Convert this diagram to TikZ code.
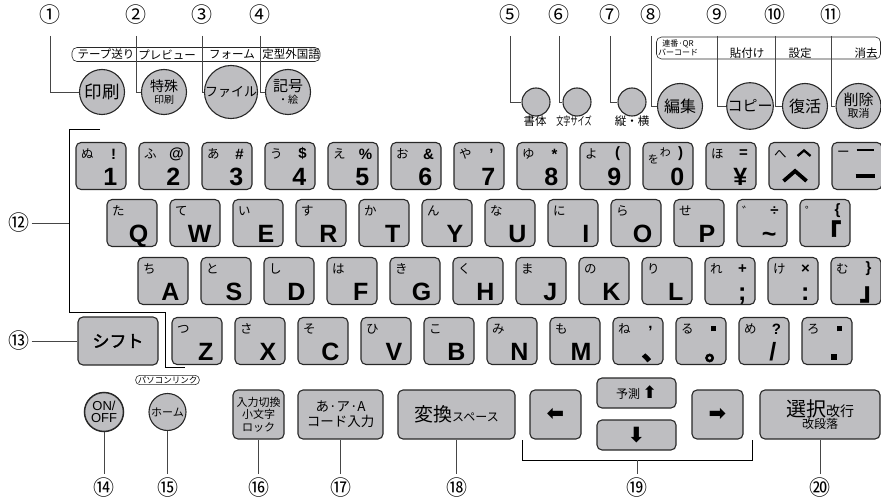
\documentclass[tikz,border=0pt]{standalone}
\usepackage{fontspec}
\setmainfont{Liberation Sans}
\newfontfamily\jp{Noto Sans CJK JP}
\newfontfamily\jpb[FakeBold=2]{Noto Sans CJK JP}
\newfontfamily\dv{DejaVu Sans}
\usetikzlibrary{positioning,calc}
\definecolor{keyGray}{RGB}{190,190,193}
\definecolor{keyLine}{RGB}{40,40,40}
\definecolor{leadCol}{RGB}{70,70,70}
\tikzset{
  key/.style={draw=keyLine,fill=keyGray,line width=1.1pt,rounded corners=5pt,inner sep=0pt,
              minimum width=50pt,minimum height=47pt,align=center,font=\jp},
  btn/.style={circle,draw=keyLine,fill=keyGray,line width=1.1pt,inner sep=0pt,
              minimum size=45pt,align=center,font=\jp},
  sbtn/.style={btn,minimum size=28pt},
  lead/.style={draw=leadCol,line width=0.8pt},
  num/.style={font=\jp\fontsize{21}{21}\selectfont,inner sep=0pt},
  kana/.style={font=\jp\fontsize{12.5}{12.5}\selectfont,inner sep=0pt},
  symb/.style={font=\bfseries\fontsize{15}{15}\selectfont,inner sep=0pt},
  mainch/.style={font=\bfseries\fontsize{25}{25}\selectfont,inner sep=0pt,anchor=base east},
  tag/.style={draw=keyLine,line width=0.6pt,rounded corners=5pt,inner sep=0pt},
  tagtxt/.style={font=\jp\fontsize{11.5}{11.5}\selectfont,inner sep=0pt},
  arr/.style={font=\dv\bfseries\fontsize{21}{21}\selectfont},
}

\begin{document}
\begin{tikzpicture}[x=1pt,y=-1pt,
      chev/.style={line width=2pt,draw=black},
      bar/.style={line width=2.5pt,draw=black}]
  \useasboundingbox (0,0) rectangle (881,500);
  % function tags above the top buttons
  \node[tag,minimum width=248pt,minimum height=14pt] (tagL) at (196,54.5) {};
  \foreach \x/\t [count=\i] in {106/テープ送り,167/プレビュー,232/フォーム,291/定型外国語}
    \node[tagtxt] (tl\i) at (\x,54.5) {\t};
  \node[tag,minimum width=224pt,minimum height=22pt] (tagR) at (768.5,48) {};
  \node[tagtxt,font=\jp\fontsize{8}{8.5}\selectfont,align=center] (tr0) at (678,48) {連番·QR\\バーコード};
  \foreach \x/\t [count=\i] in {747/貼付け,800/設定,866/消去}
    \node[tagtxt] (tr\i) at (\x,53) {\t};
  % top buttons
  \node[btn] (b1) at (102,92) {\fontsize{17.5}{17.5}\selectfont 印刷};
  \node[btn] (b2) at (164,92) {\fontsize{14}{15}\selectfont 特殊\\印刷};
  \node[btn] (b3) at (231,92) {\fontsize{13}{13}\selectfont ファイル};
  \node[btn] (b4) at (288,92) {\fontsize{15}{16}\selectfont 記号\\・絵};
  \node[sbtn] (b5) at (536,102) {};
  \node[sbtn] (b6) at (577,102) {};
  \node[sbtn] (b7) at (632,102) {};
  \node[btn] (b8) at (680,106) {\fontsize{16}{16}\selectfont 編集};
  \node[btn] (b9) at (750,106) {\fontsize{15}{15}\selectfont コピー};
  \node[btn] (b10) at (805,106) {\fontsize{16}{16}\selectfont 復活};
  \node[btn] (b11) at (858.5,106) {\fontsize{15}{16}\selectfont 削除\\\fontsize{11}{12}\selectfont 取消};
  \foreach \x/\t [count=\i] in {535/書体,574/{\scalebox{0.62}[1]{文字サイズ}},632/縦・横}
    \node[tagtxt] (lb\i) at (\x,121) {\t};
  % numbers + leaders (top)
  \foreach \i/\c/\x in {1/①/50,2/②/136,3/③/202,4/④/260,5/⑤/510,6/⑥/559,7/⑦/610,
                        8/⑧/651,9/⑨/717,10/⑩/775,11/⑪/831}{
    \node[num] (n\i) at (\x,15) {\c};
    \draw[lead,shorten <=11pt] (n\i.south) |- (b\i.west);
  }
  % number row
  \foreach \kn/\sy/\mc [count=\n] in {ぬ/!/1,ふ/@/2,あ/\#/3,う/\$/4,え/\%/5,お/\&/6,や/’/7,
        ゆ/*/8,よ/{(}/9,{}/{)}/0,ほ/=/¥,へ/{}/{},ー/{}/{}}{
    \node[key] (a\n) at ({101+63*(\n-1)},166) {};
    \node[kana] (a\n k) at ([xshift=12pt,yshift=-12pt]a\n.north west) {\kn};
    \node[symb] (a\n s) at ([xshift=-13pt,yshift=-12pt]a\n.north east) {\sy};
    \node[mainch] (a\n m) at ([xshift=-9pt,yshift=5pt]a\n.south east) {\mc};
  }
  \node[kana,font=\jp\fontsize{11}{11}\selectfont] (wo) at ([xshift=11pt,yshift=-17pt]a10.north west) {を};
  \node[kana,font=\jp\fontsize{11}{11}\selectfont] (wa) at ([xshift=23pt,yshift=-10pt]a10.north west) {わ};
  \draw[chev,line width=2.3pt] ([xshift=-22pt,yshift=-14pt]a12.north east) -- ++(6.5pt,5.5pt) -- ++(6.5pt,-5.5pt);
  \draw[chev,line width=3.8pt] ([xshift=-36pt,yshift=9pt]a12.south east) -- ++(11.5pt,10pt) -- ++(11.5pt,-10pt);
  \draw[bar] ([xshift=-26pt,yshift=-8pt]a13.north east) -- ++(17pt,0);
  \draw[bar,line width=4pt] ([xshift=-27pt,yshift=14pt]a13.south east) -- ++(19pt,0);
  % QWERTY row
  \foreach \kn/\sy/\mc [count=\n] in {た/{}/Q,て/{}/W,い/{}/E,す/{}/R,か/{}/T,ん/{}/Y,な/{}/U,
        に/{}/I,ら/{}/O,せ/{}/P,゛/÷/{\textasciitilde\kern2pt},゜/\{/{\jpb ｢}}{
    \node[key] (q\n) at ({132+63*(\n-1)},223) {};
    \node[kana] (q\n k) at ([xshift=12pt,yshift=-12pt]q\n.north west) {\kn};
    \node[symb] (q\n s) at ([xshift=-13pt,yshift=-12pt]q\n.north east) {\sy};
    \node[mainch] (q\n m) at ([xshift=-9pt,yshift=5pt]q\n.south east) {\mc};
  }
  % home row
  \foreach \kn/\sy/\mc [count=\n] in {ち/{}/A,と/{}/S,し/{}/D,は/{}/F,き/{}/G,く/{}/H,ま/{}/J,
        の/{}/K,り/{}/L,れ/+/;,け/×/:,む/\}/{\jpb ｣}}{
    \node[key] (h\n) at ({163+63*(\n-1)},281) {};
    \node[kana] (h\n k) at ([xshift=12pt,yshift=-12pt]h\n.north west) {\kn};
    \node[symb] (h\n s) at ([xshift=-13pt,yshift=-12pt]h\n.north east) {\sy};
    \node[mainch] (h\n m) at ([xshift=-9pt,yshift=5pt]h\n.south east) {\mc};
  }
  % bottom letter row
  \node[key,minimum width=80pt,minimum height=48pt,font=\jpb\fontsize{17}{17}\selectfont] (shift) at (118,341) {シフト};
  \foreach \kn/\sy/\mc [count=\n] in {つ/{}/Z,さ/{}/X,そ/{}/C,ひ/{}/V,こ/{}/B,み/{}/N,も/{}/M,
        ね/{,}/{\jpb ､},る/{\rule{5pt}{5pt}}/{\jpb ｡},め/?/{/\kern4pt},
        ろ/{\rule{5pt}{5pt}}/{\rule{6pt}{6pt}\kern6pt}}{
    \node[key] (z\n) at ({197+63*(\n-1)},341) {};
    \node[kana] (z\n k) at ([xshift=12pt,yshift=-12pt]z\n.north west) {\kn};
    \node[symb] (z\n s) at ([xshift=-13pt,yshift=-12pt]z\n.north east) {\sy};
    \node[mainch] (z\n m) at ([xshift=-9pt,yshift=5pt]z\n.south east) {\mc};
  }
  % bracket 12, leader 13
  \node[num] (n12) at (19,223) {⑫};
  \coordinate (c12) at (69,223);
  \draw[lead,shorten <=2pt] (n12.east) -- (c12);
  \draw[lead,draw=black] (100,129) -| (69,312) -| (165,367) -- (185,367);
  \node[num] (n13) at (19,341) {⑬};
  \draw[lead,shorten <=2pt] (n13.east) -- (shift.west);
  % bottom keys
  \node[tag,rounded corners=4pt,inner xsep=2pt,inner ysep=1pt,font=\jp\fontsize{8.5}{8.5}\selectfont] (pcl) at (167.5,380) {パソコンリンク};
  \node[btn,minimum size=39pt,line width=1.5pt,font=\fontsize{13}{12}\selectfont] (onoff) at (104,412) {ON/\\OFF};
  \node[btn,minimum size=37pt,font=\jp\fontsize{11}{11}\selectfont] (home) at (167.5,412) {ホーム};
  \node[key,minimum width=51pt,minimum height=49pt,font=\jp\fontsize{11}{12.5}\selectfont] (kmode) at (258.5,414.5) {入力切換\\小文字\\ロック};
  \node[key,minimum width=85pt,minimum height=49pt,font=\jp\fontsize{13.5}{15}\selectfont] (kkana) at (340.5,414.5) {あ·ア·A\\コード入力};
  \node[key,minimum width=117pt,minimum height=49pt] (kconv) at (456.5,414.5) {\fontsize{19}{19}\selectfont 変換\fontsize{12}{12}\selectfont スペース};
  \node[key,arr,minimum width=51pt,minimum height=49pt] (kleft) at (555.5,414.5) {⬅};
  \node[key,minimum width=79pt,minimum height=30pt,font=\jp\fontsize{12}{12}\selectfont] (kup) at (636.5,393) {予測 {\dv\bfseries\fontsize{17}{17}\selectfont ⬆}};
  \node[key,arr,minimum width=79pt,minimum height=30pt] (kdown) at (636.5,435) {⬇};
  \node[key,arr,minimum width=51pt,minimum height=49pt] (kright) at (717.5,414.5) {➡};
  \node[key,minimum width=120pt,minimum height=49pt] (ksel) at (820,414.5) {\fontsize{20}{20}\selectfont 選択\fontsize{14}{14}\selectfont 改行\\\fontsize{12}{14}\selectfont 改段落};
  % numbers + leaders (bottom)
  \foreach \i/\c/\x/\k in {14/⑭/104/onoff,15/⑮/167.5/home,16/⑯/258.5/kmode,17/⑰/340.5/kkana,
                           18/⑱/456.5/kconv,20/⑳/820/ksel}{
    \node[num] (n\i) at (\x,488) {\c};
    \draw[lead,shorten >=4pt] (\k.south) -- (n\i.north);
  }
  \node[num] (n19) at (637,488) {⑲};
  \coordinate (c19) at (637,460);
  \draw[lead,draw=black] (522,440) |- (752,460) -- (752,440);
  \draw[lead,shorten >=4pt] (c19) -- (n19.north);
\end{tikzpicture}
\end{document}
